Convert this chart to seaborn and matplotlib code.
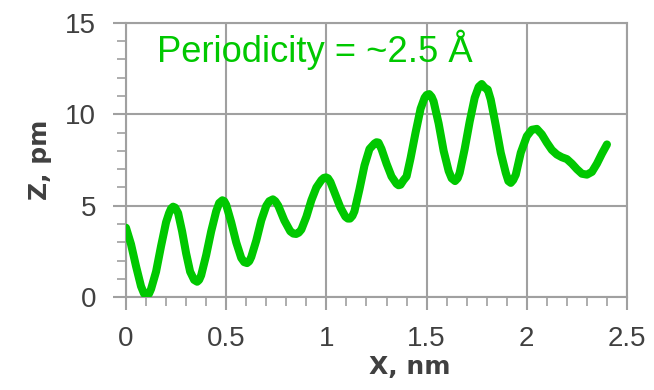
import matplotlib
matplotlib.use("Agg")
import matplotlib.pyplot as plt
import seaborn as sns
import pandas as pd
from matplotlib.ticker import MultipleLocator

# Profile
x_nm = [0.00, 0.025, 0.05, 0.075, 0.09, 0.103, 0.115, 0.125, 0.15, 0.175, 0.20, 0.215,
        0.225, 0.235, 0.245, 0.26, 0.28, 0.30, 0.32, 0.34, 0.355, 0.365, 0.375, 0.40,
        0.425, 0.45, 0.465, 0.481, 0.49, 0.50, 0.525, 0.55, 0.575, 0.59, 0.604, 0.615,
        0.625, 0.65, 0.675, 0.70, 0.715, 0.733, 0.745, 0.76, 0.79, 0.82, 0.835, 0.849,
        0.862, 0.875, 0.90, 0.925, 0.95, 0.975, 0.987, 0.998, 1.008, 1.02, 1.045, 1.07,
        1.095, 1.107, 1.118, 1.13, 1.14, 1.165, 1.19, 1.215, 1.24, 1.25, 1.26, 1.275,
        1.30, 1.325, 1.35, 1.36, 1.37, 1.385, 1.40, 1.42, 1.445, 1.47, 1.49, 1.50,
        1.513, 1.525, 1.535, 1.56, 1.585, 1.61, 1.625, 1.642, 1.655, 1.665, 1.69,
        1.715, 1.74, 1.76, 1.775, 1.79, 1.805, 1.82, 1.845, 1.87, 1.895, 1.908, 1.92,
        1.932, 1.945, 1.97, 2.00, 2.025, 2.05, 2.075, 2.10, 2.125, 2.15, 2.175, 2.20,
        2.225, 2.25, 2.275, 2.30, 2.325, 2.35, 2.375, 2.40]
z_pm = [3.8, 2.9, 1.7, 0.6, 0.2, 0.08, 0.2, 0.45, 1.4, 2.8, 4.1, 4.6,
        4.85, 4.95, 4.9, 4.6, 3.6, 2.4, 1.4, 0.95, 0.85, 0.95, 1.2, 2.3,
        3.6, 4.7, 5.15, 5.3, 5.25, 5.05, 4.1, 3.0, 2.15, 1.92, 1.87, 1.97,
        2.2, 3.1, 4.2, 5.0, 5.25, 5.35, 5.25, 5.0, 4.2, 3.6, 3.48, 3.46,
        3.53, 3.7, 4.4, 5.3, 6.0, 6.4, 6.52, 6.55, 6.5, 6.3, 5.6, 4.9,
        4.4, 4.3, 4.3, 4.45, 4.7, 5.9, 7.2, 8.1, 8.4, 8.47, 8.45, 8.1,
        7.3, 6.6, 6.2, 6.12, 6.15, 6.4, 6.6, 7.6, 9.0, 10.3, 10.9, 11.05,
        11.1, 10.95, 10.7, 9.5, 8.0, 6.9, 6.5, 6.35, 6.5, 6.8, 8.1,
        9.6, 10.9, 11.5, 11.65, 11.45, 11.35, 10.8, 9.4, 7.9, 6.8, 6.35, 6.25,
        6.4, 6.7, 7.9, 8.8, 9.15, 9.2, 8.9, 8.45, 8.05, 7.8, 7.65, 7.55,
        7.3, 7.0, 6.75, 6.7, 6.85, 7.3, 7.85, 8.35]
x_ticks = [0, 0.5, 1, 1.5, 2, 2.5]
x_tick_labels = ["0", "0.5", "1", "1.5", "2", "2.5"]
y_ticks = [0, 5, 10, 15]
y_tick_labels = ["0", "5", "10", "15"]

sns.set_theme(style="whitegrid")
plt.rcParams["font.family"] = ["Liberation Sans", "DejaVu Sans"]

GREEN = "#00C800"
GRID = "#A0A0A0"
TXT = "#404040"

fig = plt.figure(figsize=(6.54, 3.90), dpi=100)
ax = fig.add_axes([126 / 654, 1 - 297.3 / 390, 501 / 654, 274.6 / 390])

df = pd.DataFrame({"X": x_nm, "Z": z_pm})
sns.lineplot(data=df, x="X", y="Z", ax=ax, color=GREEN, linewidth=5.8,
             solid_capstyle="round", solid_joinstyle="round", zorder=5)

ax.set_xlim(0, 2.5)
ax.set_ylim(0, 15)
ax.set_xticks(x_ticks)
ax.set_xticklabels(x_tick_labels)
ax.set_yticks(y_ticks)
ax.set_yticklabels(y_tick_labels)
ax.xaxis.set_minor_locator(MultipleLocator(0.1))
ax.yaxis.set_minor_locator(MultipleLocator(1))

ax.grid(True, which="major", color=GRID, linewidth=1.5)
ax.grid(False, which="minor")
ax.set_facecolor("white")
for s in ax.spines.values():
    s.set_visible(True)
    s.set_color(GRID)
    s.set_linewidth(1.5)

ax.tick_params(axis="both", which="major", direction="out", length=9.5, width=1.5,
               color=GRID, labelsize=20, labelcolor=TXT)
ax.tick_params(axis="both", which="minor", direction="out", length=6.5, width=1.2,
               color=GRID)
ax.tick_params(axis="x", which="both", bottom=True, pad=11)
ax.tick_params(axis="y", which="both", left=True, pad=12)

label_font = dict(family=["DejaVu Sans"], size=18, weight="bold", color=TXT)
ax.set_xlabel("X, nm", fontdict=label_font)
ax.set_ylabel("Z, pm", fontdict=label_font)
ax.xaxis.set_label_coords((410 - 126) / 501, (297.3 - 355) / 274.6)
ax.yaxis.set_label_coords((52 - 126) / 501, 0.5)

ax.text(0.153, 12.87, "Periodicity = ~2.5 Å", color=GREEN, fontsize=26.2,
        ha="left", va="baseline", zorder=6)

fig.savefig("out.png", dpi=100)
